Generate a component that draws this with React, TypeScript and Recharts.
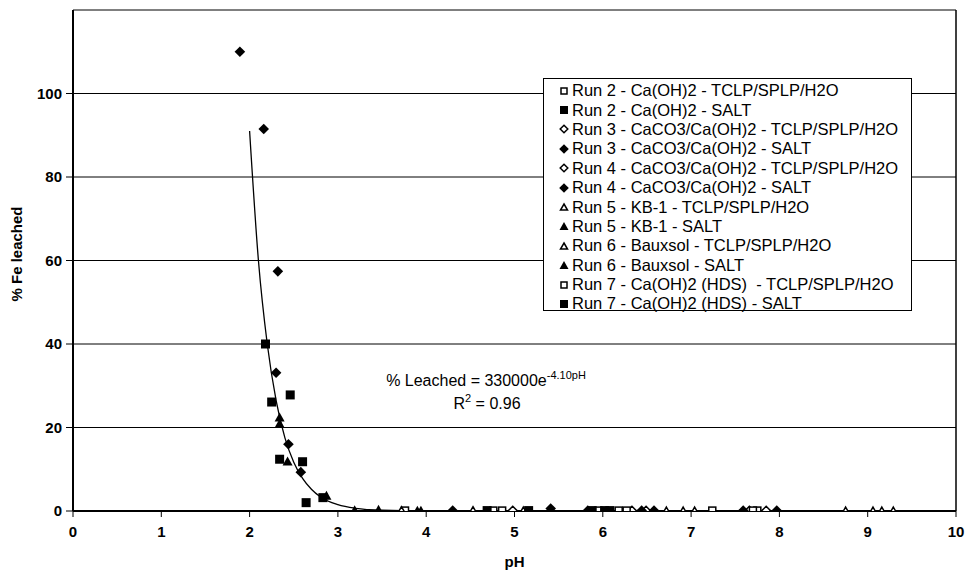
import React from 'react';
import { ComposedChart, Scatter, Line, XAxis, YAxis, ReferenceLine, Label, Customized } from 'recharts';

type Pt = [number, number];
type Kind = 'square' | 'diamond' | 'triangle';

const xTicks = [0, 1, 2, 3, 4, 5, 6, 7, 8, 9, 10];
const yTicks = [0, 20, 40, 60, 80, 100];
const gridValues = [20, 40, 60, 80, 100, 120];

// pH vs % Fe leached
const run2Tclp: Pt[] = [[3.76, 0.1], [4.86, 0.1], [5.95, 0.1], [7.24, 0.1], [7.75, 0.1]];
const run2Salt: Pt[] = [[2.18, 40], [2.25, 26.1], [2.46, 27.8], [5.88, 0.1], [6.08, 0.1]];
const run3Tclp: Pt[] = [[4.98, 0.1], [6.49, 0.1], [7.85, 0.1]];
const run3Salt: Pt[] = [[1.89, 110], [2.16, 91.5], [2.32, 57.4], [2.3, 33.1], [2.44, 16], [2.58, 9.3], [4.3, 0.1], [5.41, 0.6]];
const run4Tclp: Pt[] = [[6.33, 0.1], [7.66, 0.1]];
const run4Salt: Pt[] = [[5.83, 0.1], [6.44, 0.1], [6.58, 0.1], [7.59, 0.1], [7.97, 0.1]];
const run5Tclp: Pt[] = [[4.53, 0.2], [6.72, 0.1], [6.91, 0.1], [7.04, 0.1], [9.06, 0.1]];
const run5Salt: Pt[] = [[2.34, 22.5], [2.87, 3.8], [3.46, 0.4], [3.9, 0.2]];
const run6Tclp: Pt[] = [[3.72, 0.2], [5.1, 0.1], [8.75, 0.1], [9.16, 0.1], [9.29, 0.1]];
const run6Salt: Pt[] = [[2.34, 21], [2.43, 12], [3.19, 0.3], [3.94, 0.2]];
const run7Tclp: Pt[] = [[4.76, 0.1], [6.18, 0.1], [6.27, 0.1], [7.7, 0.1]];
const run7Salt: Pt[] = [[2.34, 12.4], [2.6, 11.8], [2.64, 2], [2.83, 3.2], [4.69, 0.1], [5.16, 0.1], [6.02, 0.1]];

// fitted trend line
const trendPh = [2.0, 2.1, 2.2, 2.3, 2.4, 2.5, 2.6, 2.7, 2.8, 3.0, 3.2, 3.5, 4.0, 5.0, 6.0, 7.0, 8.0, 9.3];
const trendFe = [91, 60, 40, 26.5, 17.5, 11.7, 7.8, 5.2, 3.4, 1.5, 0.65, 0.2, 0.03, 0, 0, 0, 0, 0];

const seriesNames = [
  'Run 2 - Ca(OH)2 - TCLP/SPLP/H2O',
  'Run 2 - Ca(OH)2 - SALT',
  'Run 3 - CaCO3/Ca(OH)2 - TCLP/SPLP/H2O',
  'Run 3 - CaCO3/Ca(OH)2 - SALT',
  'Run 4 - CaCO3/Ca(OH)2 - TCLP/SPLP/H2O',
  'Run 4 - CaCO3/Ca(OH)2 - SALT',
  'Run 5 - KB-1 - TCLP/SPLP/H2O',
  'Run 5 - KB-1 - SALT',
  'Run 6 - Bauxsol - TCLP/SPLP/H2O',
  'Run 6 - Bauxsol - SALT',
  'Run 7 - Ca(OH)2 (HDS)  - TCLP/SPLP/H2O',
  'Run 7 - Ca(OH)2 (HDS) - SALT',
];

const series: { name: string; data: Pt[]; kind: Kind; filled: boolean }[] = [
  { name: seriesNames[0], data: run2Tclp, kind: 'square', filled: false },
  { name: seriesNames[1], data: run2Salt, kind: 'square', filled: true },
  { name: seriesNames[2], data: run3Tclp, kind: 'diamond', filled: false },
  { name: seriesNames[3], data: run3Salt, kind: 'diamond', filled: true },
  { name: seriesNames[4], data: run4Tclp, kind: 'diamond', filled: false },
  { name: seriesNames[5], data: run4Salt, kind: 'diamond', filled: true },
  { name: seriesNames[6], data: run5Tclp, kind: 'triangle', filled: false },
  { name: seriesNames[7], data: run5Salt, kind: 'triangle', filled: true },
  { name: seriesNames[8], data: run6Tclp, kind: 'triangle', filled: false },
  { name: seriesNames[9], data: run6Salt, kind: 'triangle', filled: true },
  { name: seriesNames[10], data: run7Tclp, kind: 'square', filled: false },
  { name: seriesNames[11], data: run7Salt, kind: 'square', filled: true },
];

const FONT = '"Liberation Sans", Arial, sans-serif';

function Mark({ kind, filled, cx, cy, s = 9 }: { kind: Kind; filled: boolean; cx: number; cy: number; s?: number }) {
  const fill = filled ? '#000' : '#fff';
  const sw = filled ? 0 : 1.5;
  const size = filled ? s : s - 2;
  const h = size / 2;
  if (kind === 'square') {
    return <rect x={cx - h} y={cy - h} width={size} height={size} fill={fill} stroke="#000" strokeWidth={sw} />;
  }
  if (kind === 'diamond') {
    const d = h + 0.8;
    return <polygon points={`${cx},${cy - d} ${cx + d},${cy} ${cx},${cy + d} ${cx - d},${cy}`} fill={fill} stroke="#000" strokeWidth={sw} />;
  }
  return <polygon points={`${cx},${cy - h} ${cx + h + 0.5},${cy + h} ${cx - h - 0.5},${cy + h}`} fill={fill} stroke="#000" strokeWidth={sw} />;
}

const Annotation = () => (
  <g fontFamily={FONT} fill="#000">
    <text x={486} y={386} textAnchor="middle" fontSize={16}>
      % Leached = 330000e<tspan fontSize={11} dy={-7}>-4.10pH</tspan>
    </text>
    <text x={487} y={409} textAnchor="middle" fontSize={16}>
      R<tspan fontSize={11} dy={-7}>2</tspan><tspan dy={7}> = 0.96</tspan>
    </text>
    <text x={16} y={254} transform="rotate(-90 16 254)" textAnchor="middle" dominantBaseline="central" fontSize={15} fontWeight="bold">
      % Fe leached
    </text>
  </g>
);

export default function App() {
  const trend = trendPh.map((x, i) => ({ x, y: trendFe[i] }));
  return (
    <div style={{ position: 'absolute', left: 0, top: 0, width: 967, height: 571, background: '#fff', fontFamily: FONT }}>
      <ComposedChart width={967} height={571} margin={{ top: 10, right: 11, bottom: 0, left: 0 }}>
        <XAxis
          type="number"
          dataKey="x"
          domain={[0, 10]}
          ticks={xTicks}
          allowDataOverflow
          axisLine={{ stroke: '#000', strokeWidth: 2 }}
          tickLine={{ stroke: '#000' }}
          tickSize={6}
          tickMargin={9}
          tick={{ fill: '#000', fontSize: 15, fontWeight: 'bold', fontFamily: FONT }}
          height={60}
        >
          <Label value="pH" position="insideBottom" offset={4} style={{ fill: '#000', fontSize: 15, fontWeight: 'bold', fontFamily: FONT }} />
        </XAxis>
        <YAxis
          type="number"
          dataKey="y"
          domain={[0, 120]}
          ticks={yTicks}
          allowDataOverflow
          axisLine={{ stroke: '#000', strokeWidth: 2 }}
          tickLine={{ stroke: '#000' }}
          tickSize={7}
          tickMargin={4}
          tick={{ fill: '#000', fontSize: 15, fontWeight: 'bold', fontFamily: FONT }}
          width={73}
        />
        {gridValues.map((v) => (
          <ReferenceLine key={v} y={v} stroke="#000" strokeWidth={1} ifOverflow="visible" />
        ))}
        <ReferenceLine x={10} stroke="#000" strokeWidth={1.5} ifOverflow="visible" />
        <Line data={trend} dataKey="y" type="monotone" stroke="#000" strokeWidth={1.3} dot={false} isAnimationActive={false} />
        {series.map((s) => (
          <Scatter
            key={s.name}
            name={s.name}
            data={s.data.map(([x, y]) => ({ x, y }))}
            dataKey="y"
            isAnimationActive={false}
            shape={(p: any) => <Mark kind={s.kind} filled={s.filled} cx={p.cx} cy={p.cy} />}
          />
        ))}
        <Customized component={Annotation} />
      </ComposedChart>
      <div
        style={{
          position: 'absolute',
          left: 543,
          top: 78,
          width: 369,
          height: 233,
          border: '1px solid #000',
          background: '#fff',
          boxSizing: 'border-box',
          paddingTop: 2,
        }}
      >
        {series.map((s) => (
          <div key={s.name} style={{ display: 'flex', alignItems: 'center', height: 19.4, fontSize: 16.5, whiteSpace: 'pre', color: '#000' }}>
            <svg width={28} height={12} style={{ flex: 'none' }}>
              <Mark kind={s.kind} filled={s.filled} cx={20} cy={6} s={8} />
            </svg>
            <span>{s.name}</span>
          </div>
        ))}
      </div>
    </div>
  );
}
